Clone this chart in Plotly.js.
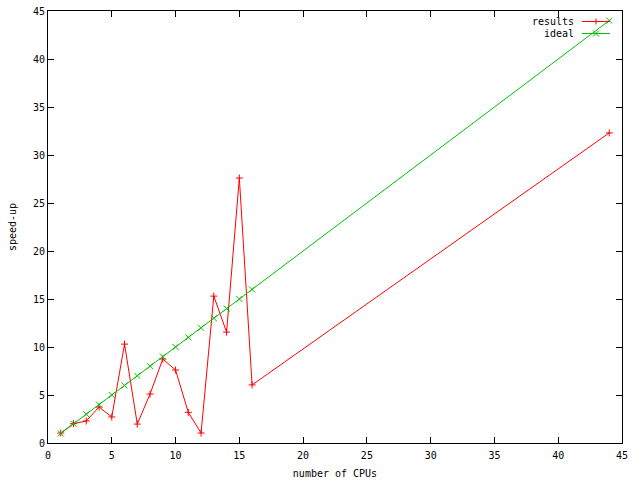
<!DOCTYPE html>
<html>
<head>
<meta charset="utf-8">
<script src="https://cdn.plot.ly/plotly-3.0.1.min.js"></script>
<style>html,body{margin:0;padding:0;background:#fff;}#chart{width:640px;height:480px;}</style>
</head>
<body>
<div id="chart"></div>
<script>
// Data
const cpus = [1, 2, 3, 4, 5, 6, 7, 8, 9, 10, 11, 12, 13, 14, 15, 16, 44];
const speedup = [1.04, 2.01, 2.29, 3.75, 2.71, 10.3, 1.97, 5.1, 8.75, 7.6, 3.19, 1.04, 15.3, 11.55, 27.6, 6.05, 32.3];
const idealX = [1, 2, 3, 4, 5, 6, 7, 8, 9, 10, 11, 12, 13, 14, 15, 16, 44];
const idealY = [1, 2, 3, 4, 5, 6, 7, 8, 9, 10, 11, 12, 13, 14, 15, 16, 44];
const xTicks = [0, 5, 10, 15, 20, 25, 30, 35, 40, 45];
const yTicks = [0, 5, 10, 15, 20, 25, 30, 35, 40, 45];
const seriesNames = ['results', 'ideal'];
const seriesColors = ['#ff0000', '#00c000'];

const font = {family: 'DejaVu Sans Mono, Liberation Mono, monospace', size: 10, color: '#000'};

const traces = [
  {
    x: cpus, y: speedup, name: seriesNames[0], type: 'scatter', mode: 'lines+markers',
    line: {color: seriesColors[0], width: 1},
    marker: {symbol: 'cross-thin-open', size: 5, line: {color: seriesColors[0], width: 1}, color: seriesColors[0]}
  },
  {
    x: idealX, y: idealY, name: seriesNames[1], type: 'scatter', mode: 'lines+markers',
    line: {color: seriesColors[1], width: 1},
    marker: {symbol: 'x-thin-open', size: 6, line: {color: seriesColors[1], width: 1}, color: seriesColors[1]}
  }
];

// gnuplot-style key: text on the left, sample on the right
const keyTextX = 0.918, keyLineX0 = 0.930, keyLineX1 = 0.979, keyMarkX = 0.9547;
const keyRowsY = [0.9757, 0.9479];
const shapes = [];
const annotations = [];
seriesNames.forEach((nm, i) => {
  const yy = keyRowsY[i], c = seriesColors[i];
  annotations.push({xref: 'paper', yref: 'paper', x: keyTextX, y: yy, xanchor: 'right', yanchor: 'middle',
    text: nm, showarrow: false, font: font, borderpad: 0});
  shapes.push({type: 'line', xref: 'paper', yref: 'paper', x0: keyLineX0, x1: keyLineX1, y0: yy, y1: yy,
    line: {color: c, width: 1}});
  const segs = i === 0
    ? [[-3, 0, 3, 0], [0, -3, 0, 3]]
    : [[-3, -3, 3, 3], [-3, 3, 3, -3]];
  segs.forEach(s => shapes.push({type: 'line', xref: 'paper', yref: 'paper',
    xsizemode: 'pixel', ysizemode: 'pixel', xanchor: keyMarkX, yanchor: yy,
    x0: s[0], y0: s[1], x1: s[2], y1: s[3], line: {color: c, width: 1}}));
});

const axisCommon = {
  showgrid: false, zeroline: false, showline: true, linecolor: '#000', linewidth: 1,
  mirror: 'allticks', ticks: 'inside', ticklen: 6, tickcolor: '#000', tickwidth: 1,
  tickfont: font
};

const layout = {
  width: 640, height: 480,
  paper_bgcolor: '#fff', plot_bgcolor: '#fff',
  margin: {l: 48, r: 18, t: 11, b: 37},
  font: font,
  showlegend: false,
  shapes: shapes,
  annotations: annotations,
  xaxis: Object.assign({}, axisCommon, {
    range: [0, 45], tickvals: xTicks, ticktext: xTicks.map(String), ticklabelstandoff: 3,
    title: {text: 'number of CPUs', font: font, standoff: 9}
  }),
  yaxis: Object.assign({}, axisCommon, {
    range: [0, 45], tickvals: yTicks, ticktext: yTicks.map(String),
    title: {text: 'speed-up', font: font, standoff: 14}
  })
};

Plotly.newPlot('chart', traces, layout, {displayModeBar: false, staticPlot: true});
</script>
</body>
</html>
